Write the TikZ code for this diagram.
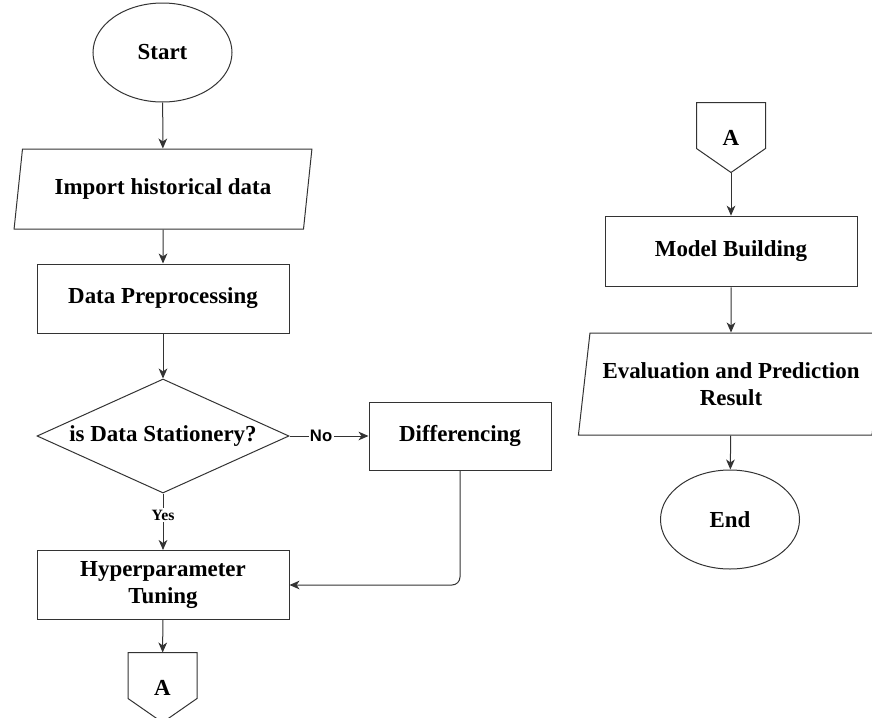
\documentclass[tikz,border=0pt]{standalone}
\usepackage{fontspec}
\setmainfont{Liberation Serif}
\newfontfamily\labelsans{Liberation Sans}
\usetikzlibrary{shapes.geometric,arrows.meta}

\tikzset{
  base/.style={draw={rgb,255:red,51;green,51;blue,51}, line width=0.75pt, align=center, inner sep=0.75pt,
    font=\fontsize{17.2}{20.3}\selectfont\bfseries},
  terminal/.style={base, ellipse, minimum width=104.25pt, minimum height=74.25pt},
  process/.style={base, rectangle, minimum width=189pt, minimum height=51.75pt},
  io/.style={base, trapezium, trapezium stretches=true, minimum height=60pt, minimum width=223.5pt,
    trapezium left angle=74, trapezium right angle=106},
  decision/.style={base, diamond, minimum width=189pt, minimum height=85.5pt, aspect=2.2, inner sep=0pt},
  offpage/.style={base, draw=none, rectangle, minimum width=51pt, minimum height=51.75pt},
  offline/.style={draw={rgb,255:red,51;green,51;blue,51}, line width=0.75pt},
  line/.style={draw={rgb,255:red,51;green,51;blue,51}, line width=0.75pt, -{Stealth[length=7.5pt,width=6.5pt,inset=2.2pt]}},
  branch/.style={fill=white, inner sep=1pt}
}

\begin{document}
\begin{tikzpicture}[x=0.75pt,y=0.75pt,yscale=-1,xscale=1]
\useasboundingbox (0,0) rectangle (872,718);
\clip (0,0) rectangle (872,718);

%Shape: Ellipse [start]
\node[terminal] (start) at (162.5,52.5) {Start};
%Shape: Parallelogram [import]
\node[io] (import) at (163,189) {Import historical data};
%Shape: Rectangle [prep]
\node[process] (prep) at (163,298.5) {Data Preprocessing};
%Shape: Diamond [stationary]
\node[decision] (stat) at (163,436) {is Data Stationery?};
%Shape: Rectangle [diff]
\node[process, minimum width=136.5pt, minimum height=51pt] (diff) at (460,436) {Differencing};
%Shape: Rectangle [tuning]
\node[process] (tune) at (163,585) {Hyperparameter\\Tuning};
%Shape: Off-page [A, left]
\node[offpage] (offA) at (162.5,687.5) {A};
\draw[offline] (offA.north west) -- (offA.north east) -- ([yshift=-18pt]offA.south east)
  -- (offA.south) -- ([yshift=-18pt]offA.south west) -- cycle;

%Shape: Off-page [A, right]
\node[offpage] (onA) at (731,137.5) {A};
\draw[offline] (onA.north west) -- (onA.north east) -- ([yshift=-18pt]onA.south east)
  -- (onA.south) -- ([yshift=-18pt]onA.south west) -- cycle;
%Shape: Rectangle [model]
\node[process, minimum height=53pt] (model) at (731,251.5) {Model Building};
%Shape: Parallelogram [eval]
\node[io, minimum width=229.5pt, minimum height=76.5pt, trapezium left angle=76.8, trapezium right angle=103.2]
  (eval) at (731,384) {Evaluation and Prediction\\Result};
%Shape: Ellipse [end]
\node[terminal] (end) at (730,519.5) {End};

% Connectors
\draw[line] (start) -- (import);
\draw[line] (import) -- (prep);
\draw[line] (prep) -- (stat);
\draw[line] (stat) -- node[branch, pos=0.4, font=\fontsize{12.5}{14}\selectfont\labelsans\bfseries] {No} (diff);
\draw[line] (stat) -- node[branch, pos=0.38, font=\fontsize{11.8}{14}\selectfont\bfseries] {Yes} (tune);
\draw[line, rounded corners=6pt] (diff.south) |- (tune.east);
\draw[line] (tune) -- (offA);
\draw[line] (onA.south) -- (model);
\draw[line] (model) -- (eval);
\draw[line] (eval) -- (end);

\end{tikzpicture}
\end{document}
